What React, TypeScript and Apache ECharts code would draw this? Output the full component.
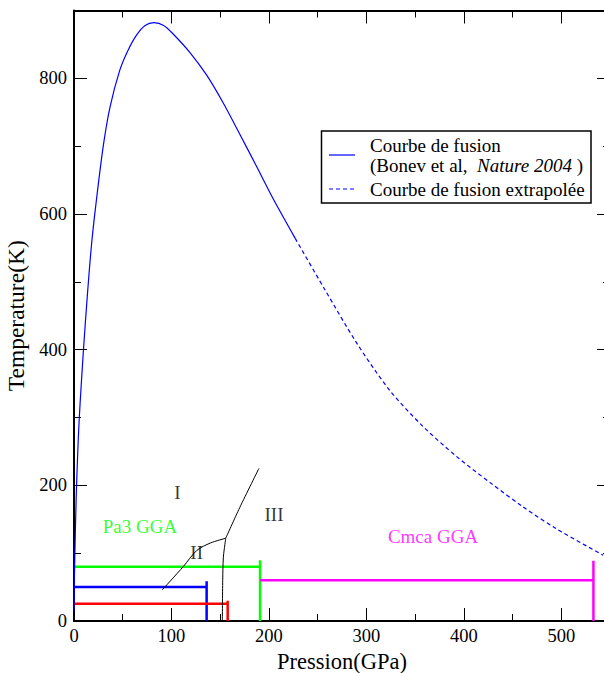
import React, { useEffect, useRef } from 'react';
import * as echarts from 'echarts';

const FONT = 'Liberation Serif';

// Axis ticks
const xMajorTicks = [0, 100, 200, 300, 400, 500];
const xMinorTicks = [50, 150, 250, 350, 450];
const yMajorTicks = [0, 200, 400, 600, 800];
const yMinorTicks = [100, 300, 500, 700];

// Melting curve (Bonev et al., Nature 2004) — [pressure GPa, temperature K]
const meltingCurve: [number, number][] = [
  [0, 14], [0.5, 70], [1, 105], [2.3, 185], [5.1, 290], [9.5, 395], [13.7, 480],
  [18, 555], [22.3, 612], [30, 700], [37, 758], [47, 812], [55, 840], [64.3, 864],
  [73, 878], [82, 882], [92, 878], [102, 865], [119, 838], [136, 805], [153, 764],
  [170, 718], [187, 671], [204.5, 622], [227, 564],
];
const meltingExtrapolated: [number, number][] = [
  [227, 564], [256, 492], [290, 410], [324, 340], [358, 287], [393, 242],
  [427, 204], [461, 168], [495, 136], [543, 97],
];

// Phase boundaries
const boundaryI_II: [number, number][] = [[90.6, 46], [112, 80], [126, 104], [140, 115], [155.7, 122]];
const boundaryII_III: [number, number][] = [[155.7, 122], [154.2, 106], [153.2, 93], [152.6, 60], [152.2, 0]];
const boundaryI_III: [number, number][] = [[155.7, 122], [170, 167], [189.8, 225]];

// Range markers
const pa3Range: [number, number][] = [[0, 80], [190.9, 80], [190.9, 89.5], [190.9, 0]];
const blueRange: [number, number][] = [[0, 50], [136.1, 50], [136.1, 58.5], [136.1, 0]];
const redRange: [number, number][] = [[0, 25.5], [157.7, 25.5], [157.7, 30], [157.7, 0]];
const cmcaRange: [number, number][] = [[191, 60], [533, 60], [533, 89], [533, 0]];

// Annotations
const annotationTexts = ['I', 'II', 'III', 'Pa3 GGA', 'Cmca GGA'];
const annotationP = [106, 125.9, 205.2, 67.7, 368.4];
const annotationT = [189, 100.7, 157.7, 140, 125.3];
const annotationColors = ['#000000', '#000000', '#000000', '#00ff00', '#ff00ff'];

export default function App() {
  const ref = useRef<HTMLDivElement>(null);

  useEffect(() => {
    if (!ref.current) return;
    const chart = echarts.init(ref.current, undefined, { renderer: 'svg' });

    const axisLineStyle = { color: '#000', width: 2 };
    const tickStyle = { color: '#000', width: 1 };

    const makeX = (position: 'bottom' | 'top', major: boolean, labels: boolean) => ({
      type: 'value',
      position,
      min: 0,
      max: 550,
      name: labels ? 'Pression(GPa)' : '',
      nameLocation: 'middle',
      nameGap: 21,
      nameTextStyle: { fontFamily: FONT, fontSize: 22.5, color: '#000' },
      axisLine: { show: major, onZero: false, lineStyle: axisLineStyle },
      axisTick: {
        show: true,
        inside: true,
        length: major ? 13 : 7,
        customValues: major ? xMajorTicks : xMinorTicks,
        lineStyle: tickStyle,
      },
      axisLabel: {
        show: labels,
        customValues: xMajorTicks,
        fontFamily: FONT,
        fontSize: 18.5,
        color: '#000',
        margin: 5,
      },
      splitLine: { show: false },
      minorTick: { show: false },
    });

    const makeY = (position: 'left' | 'right', major: boolean, labels: boolean) => ({
      type: 'value',
      position,
      min: 0,
      max: 900,
      name: labels ? 'Temperature(K)' : '',
      nameLocation: 'middle',
      nameGap: 42,
      nameRotate: 90,
      nameTextStyle: { fontFamily: FONT, fontSize: 23.5, color: '#000' },
      axisLine: { show: major, onZero: false, lineStyle: axisLineStyle },
      axisTick: {
        show: true,
        inside: true,
        length: major ? 13 : 7,
        customValues: major ? yMajorTicks : yMinorTicks,
        lineStyle: tickStyle,
      },
      axisLabel: {
        show: labels,
        customValues: yMajorTicks,
        fontFamily: FONT,
        fontSize: 18.5,
        color: '#000',
        margin: 7,
      },
      splitLine: { show: false },
      minorTick: { show: false },
    });

    const lineSeries = (data: [number, number][], color: string, width: number, type: any = 'solid', z = 2) => ({
      type: 'line',
      data,
      xAxisIndex: 0,
      yAxisIndex: 0,
      showSymbol: false,
      symbol: 'none',
      lineStyle: { color, width, type },
      z,
      silent: true,
    });

    const smoothLine = (data: [number, number][], color: string, width: number, type: any = 'solid') => ({
      ...lineSeries(data, color, width, type, 3),
      smooth: 0.3,
    });

    const option: any = {
      animation: false,
      backgroundColor: '#ffffff',
      textStyle: { fontFamily: FONT },
      grid: { left: 74, right: -6, top: 10.5, bottom: 52, containLabel: false, outerBoundsMode: 'none' },
      xAxis: [
        makeX('bottom', true, true),
        makeX('bottom', false, false),
        makeX('top', true, false),
        makeX('top', false, false),
      ],
      yAxis: [
        makeY('left', true, true),
        makeY('left', false, false),
        makeY('right', true, false),
        makeY('right', false, false),
      ],
      series: [
        lineSeries(pa3Range, '#00ff00', 2.5),
        lineSeries(blueRange, '#0000ff', 2.5),
        lineSeries(redRange, '#ff0000', 2.5),
        lineSeries(cmcaRange, '#ff00ff', 2.5),
        smoothLine(boundaryI_II, '#000000', 1),
        smoothLine(boundaryII_III, '#000000', 1),
        smoothLine(boundaryI_III, '#000000', 1),
        smoothLine(meltingCurve, '#0000ff', 1.2),
        smoothLine(meltingExtrapolated, '#0000ff', 1.2, [4, 3]),
        {
          type: 'scatter',
          xAxisIndex: 0,
          yAxisIndex: 0,
          symbolSize: 0,
          silent: true,
          data: annotationTexts.map((t, i) => ({
            name: t,
            value: [annotationP[i], annotationT[i]],
            label: { color: annotationColors[i], fontFamily: FONT, fontSize: 19 },
          })),
          label: {
            show: true,
            position: 'inside',
            formatter: '{b}',
            fontFamily: FONT,
            fontSize: 19,
          },
          z: 5,
        },
      ],
      graphic: [
        {
          type: 'rect',
          shape: { x: 321.5, y: 131, width: 269.5, height: 72 },
          style: { fill: '#ffffff', stroke: '#000000', lineWidth: 1.5 },
          z: 100,
        },
        {
          type: 'line',
          shape: { x1: 329, y1: 155, x2: 355, y2: 155 },
          style: { stroke: '#0000ff', lineWidth: 1.2 },
          z: 101,
        },
        {
          type: 'line',
          shape: { x1: 329, y1: 189, x2: 355, y2: 189 },
          style: { stroke: '#0000ff', lineWidth: 1.2, lineDash: [4, 3] },
          z: 101,
        },
        {
          type: 'text',
          x: 370,
          y: 145,
          style: {
            text: 'Courbe de fusion',
            font: '19px Liberation Serif',
            fill: '#000',
            textAlign: 'left',
            textVerticalAlign: 'middle',
            align: 'left',
            verticalAlign: 'middle',
          },
          z: 101,
        },
        {
          type: 'text',
          x: 370,
          y: 165,
          style: {
            text: '(Bonev et al,  {i|Nature 2004} )',
            font: '19px Liberation Serif',
            fill: '#000',
            textAlign: 'left',
            textVerticalAlign: 'middle',
            align: 'left',
            verticalAlign: 'middle',
            rich: {
              i: { fontFamily: FONT, fontSize: 19, fontStyle: 'italic', fill: '#000' },
            },
          },
          z: 101,
        },
        {
          type: 'text',
          x: 370,
          y: 189,
          style: {
            text: 'Courbe de fusion extrapolée',
            font: '19px Liberation Serif',
            fill: '#000',
            textAlign: 'left',
            textVerticalAlign: 'middle',
            align: 'left',
            verticalAlign: 'middle',
          },
          z: 101,
        },
      ],
    };

    chart.setOption(option);
    return () => chart.dispose();
  }, []);

  return (
    <div
      ref={ref}
      style={{ position: 'fixed', left: 0, top: 0, width: 604, height: 673, background: '#fff' }}
    />
  );
}
